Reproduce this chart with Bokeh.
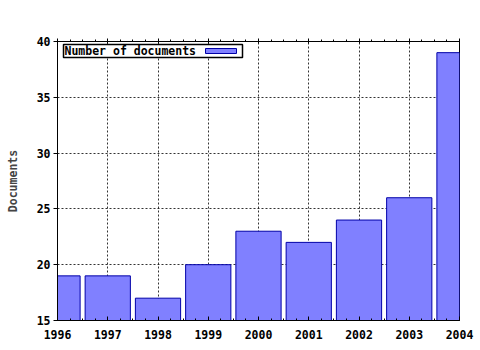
from bokeh.plotting import figure
from bokeh.models import (Range1d, SingleIntervalTicker, LinearAxis, BoxAnnotation,
                          Label, CustomJSTickFormatter)
from bokeh.embed import file_html
from bokeh.resources import INLINE

years = [1996, 1997, 1998, 1999, 2000, 2001, 2002, 2003, 2004]
documents = [19, 19, 17, 20, 23, 22, 24, 26, 39]
series_name = "Number of documents"
y_label = "Documents"

FONT = "DejaVu Sans Mono"
FS = "11.5px"

p = figure(width=480, height=350, output_backend="svg", toolbar_location=None,
           x_range=Range1d(1996, 2004), y_range=Range1d(15, 40),
           min_border_left=57, min_border_right=21, min_border_top=41, min_border_bottom=30)
p.background_fill_color = "white"
p.border_fill_color = "white"
p.outline_line_color = "black"
p.outline_line_width = 1

p.vbar(x=years, top=documents, bottom=15, width=0.9,
       fill_color="#8080ff", line_color="#0000a8", line_width=1)

xt = SingleIntervalTicker(interval=1, num_minor_ticks=4)
yt = SingleIntervalTicker(interval=5, num_minor_ticks=0)
p.xaxis.ticker = xt
p.yaxis.ticker = yt
p.xgrid.ticker = xt
p.ygrid.ticker = yt

for g in (p.xgrid, p.ygrid):
    g.grid_line_color = "black"
    g.grid_line_dash = "2 2"
    g.grid_line_width = 1
    g.grid_line_alpha = 0.8

for ax in (p.xaxis, p.yaxis):
    ax.axis_line_color = "black"
    ax.major_tick_line_color = "black"
    ax.minor_tick_line_color = "black"
    ax.major_label_text_font = FONT
    ax.major_label_text_font_size = FS
    ax.major_label_text_font_style = "bold"
    ax.major_label_text_color = "black"

p.xaxis.major_tick_in = 4
p.xaxis.major_tick_out = 0
p.xaxis.minor_tick_in = 2
p.xaxis.minor_tick_out = 0
p.xaxis.major_label_standoff = 9

p.yaxis.major_tick_in = 0
p.yaxis.major_tick_out = 4
p.yaxis.minor_tick_in = 0
p.yaxis.minor_tick_out = 0
p.yaxis.major_label_standoff = 3
p.yaxis.axis_label = y_label
p.yaxis.axis_label_text_font = FONT
p.yaxis.axis_label_text_font_size = FS
p.yaxis.axis_label_text_font_style = "bold"
p.yaxis.axis_label_standoff = 14

top = LinearAxis(ticker=xt, formatter=CustomJSTickFormatter(code="return '';"))
top.major_tick_in = 2
top.major_tick_out = 3
top.minor_tick_in = 0
top.minor_tick_out = 2
top.axis_line_color = "black"
top.major_tick_line_color = "black"
top.minor_tick_line_color = "black"
p.add_layout(top, "above")

# legend (text, then swatch); screen units here are relative to the frame's
# left edge (x) and bottom edge (y, upward)
p.add_layout(BoxAnnotation(left=6, right=185, top=276, bottom=263,
                           left_units="screen", right_units="screen",
                           top_units="screen", bottom_units="screen",
                           fill_color="white", fill_alpha=1,
                           line_color="black", line_width=1.5, line_alpha=1))
p.add_layout(BoxAnnotation(left=148, right=179, top=272, bottom=267,
                           left_units="screen", right_units="screen",
                           top_units="screen", bottom_units="screen",
                           fill_color="#8080ff", fill_alpha=1,
                           line_color="#0000a8", line_width=1, line_alpha=1))
p.add_layout(Label(x=7, y=269.5, x_units="screen", y_units="screen",
                   text=series_name, text_font=FONT, text_font_size=FS,
                   text_font_style="bold", text_baseline="middle", text_color="black"))

open("out.html", "w").write(file_html(p, INLINE))
